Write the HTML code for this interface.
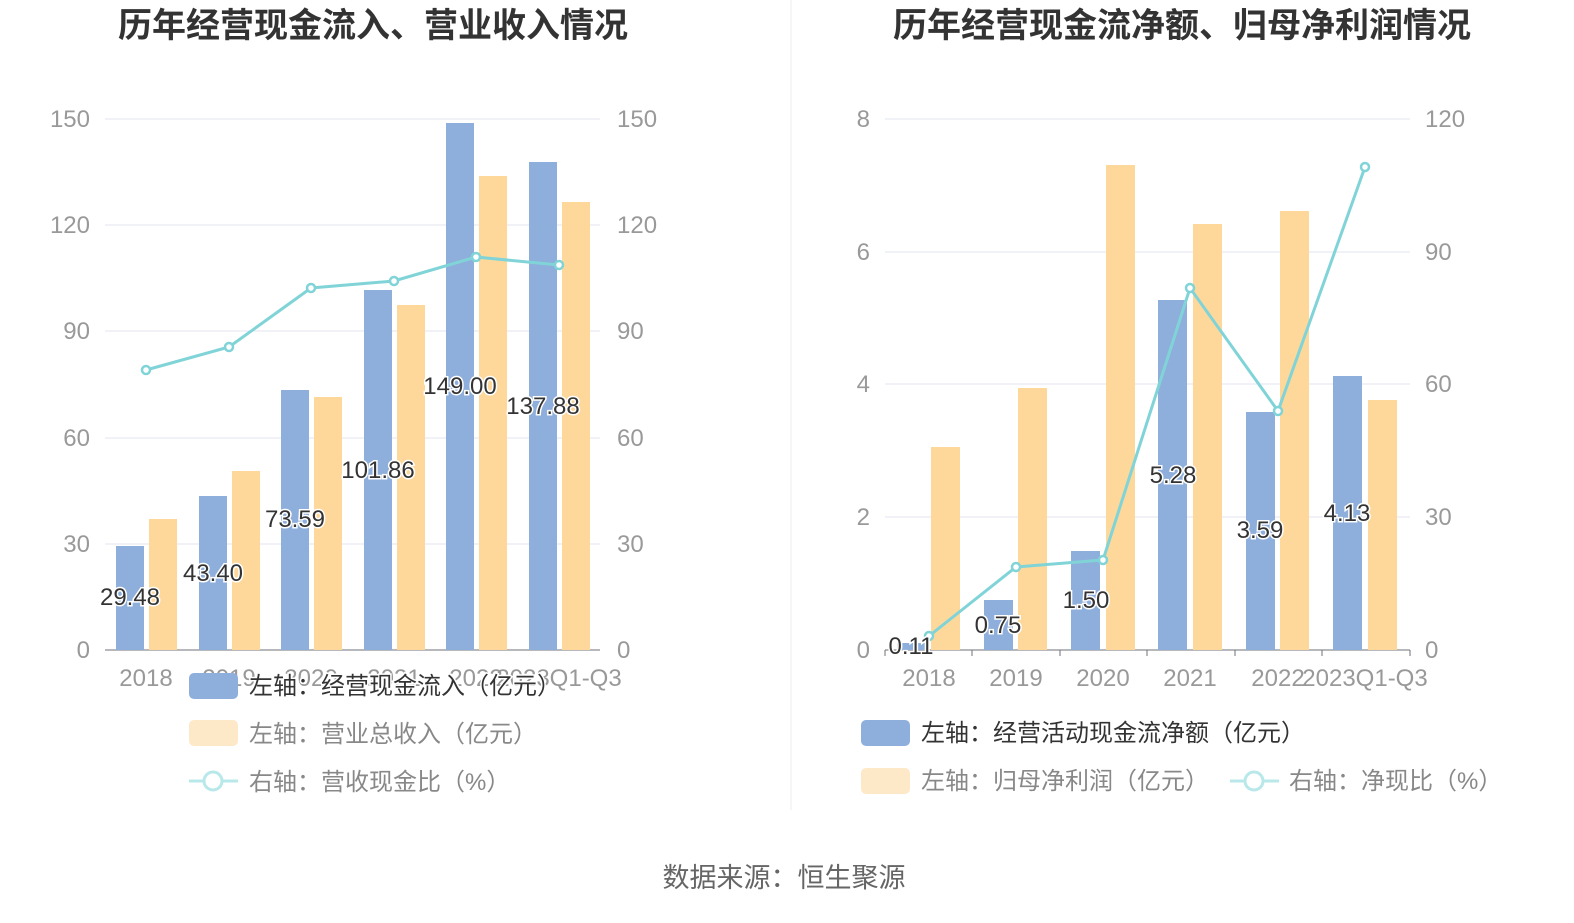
<!DOCTYPE html>
<html><head><meta charset="utf-8"><style>
body{margin:0;background:#fff;}
text{font-family:"Liberation Sans","Noto Sans CJK SC",sans-serif;}
.ax{fill:#999;font-size:24px;}
.lb{fill:#333;font-size:24px;stroke:#fff;stroke-width:3px;paint-order:stroke;}
.lg{fill:#888;font-size:24px;}
.t{fill:#333;font-size:34px;font-weight:bold;}
</style></head><body>
<svg width="1574" height="918" viewBox="0 0 1574 918" xmlns="http://www.w3.org/2000/svg">
<rect width="1574" height="918" fill="#fff"/>
<text class="t" x="373" y="37" text-anchor="middle">历年经营现金流入、营业收入情况</text>
<text class="t" x="1182" y="37" text-anchor="middle">历年经营现金流净额、归母净利润情况</text>
<line x1="791" y1="0" x2="791" y2="810" stroke="#eee"/>
<g stroke="#e0e6f1">
<line x1="105" y1="119" x2="600" y2="119"/><line x1="105" y1="225" x2="600" y2="225"/>
<line x1="105" y1="331" x2="600" y2="331"/><line x1="105" y1="438" x2="600" y2="438"/>
<line x1="105" y1="544" x2="600" y2="544"/>
</g>
<line x1="105" y1="650" x2="600" y2="650" stroke="#6e7079"/>
<g class="ax" text-anchor="end">
<text x="90" y="127">150</text><text x="90" y="233">120</text><text x="90" y="339">90</text><text x="90" y="446">60</text><text x="90" y="552">30</text><text x="90" y="658">0</text>
</g>
<g class="ax" text-anchor="start">
<text x="617" y="127">150</text><text x="617" y="233">120</text><text x="617" y="339">90</text><text x="617" y="446">60</text><text x="617" y="552">30</text><text x="617" y="658">0</text>
</g>
<g class="ax" text-anchor="middle">
<text x="146" y="686">2018</text><text x="229" y="686">2019</text><text x="311" y="686">2020</text><text x="394" y="686">2021</text><text x="476" y="686">2022</text><text x="559" y="686">2023Q1-Q3</text>
</g>
<g fill="#8eaedb">
<rect x="116" y="546" width="28" height="104"/><rect x="199" y="496" width="28" height="154"/>
<rect x="281" y="390" width="28" height="260"/><rect x="364" y="290" width="28" height="360"/>
<rect x="446" y="123" width="28" height="527"/><rect x="529" y="162" width="28" height="488"/>
</g>
<g fill="#fdd89a">
<rect x="149" y="519" width="28" height="131"/><rect x="232" y="471" width="28" height="179"/>
<rect x="314" y="397" width="28" height="253"/><rect x="397" y="305" width="28" height="345"/>
<rect x="479" y="176" width="28" height="474"/><rect x="562" y="202" width="28" height="448"/>
</g>
<polyline points="146,370 229,347 311,288 394,281 476,257 559,265" fill="none" stroke="#80d4d8" stroke-width="3"/>
<g fill="#fff" stroke="#80d4d8" stroke-width="2.5">
<circle cx="146" cy="370" r="4"/><circle cx="229" cy="347" r="4"/><circle cx="311" cy="288" r="4"/><circle cx="394" cy="281" r="4"/><circle cx="476" cy="257" r="4"/><circle cx="559" cy="265" r="4"/>
</g>
<g class="lb" text-anchor="middle">
<text x="130" y="605">29.48</text><text x="213" y="581">43.40</text><text x="295" y="527">73.59</text><text x="378" y="478">101.86</text><text x="460" y="394">149.00</text><text x="543" y="414">137.88</text>
</g>
<rect x="189" y="673" width="49" height="26" rx="5" fill="#8eaedb"/>
<text class="lb" x="249" y="694" style="fill:#333">左轴：经营现金流入（亿元）</text>
<rect x="189" y="720" width="49" height="26" rx="5" fill="#fde9c8"/>
<text class="lg" x="249" y="742">左轴：营业总收入（亿元）</text>
<line x1="189" y1="781" x2="238" y2="781" stroke="#b8e8ea" stroke-width="3"/>
<circle cx="213" cy="781" r="9" fill="#fff" stroke="#b8e8ea" stroke-width="3"/>
<text class="lg" x="249" y="790">右轴：营收现金比（%）</text>
<g stroke="#e0e6f1">
<line x1="885" y1="119" x2="1410" y2="119"/><line x1="885" y1="252" x2="1410" y2="252"/>
<line x1="885" y1="384" x2="1410" y2="384"/><line x1="885" y1="517" x2="1410" y2="517"/>
</g>
<line x1="885" y1="650" x2="1410" y2="650" stroke="#6e7079"/>
<g stroke="#6e7079"><line x1="885" y1="650" x2="885" y2="656"/><line x1="972" y1="650" x2="972" y2="656"/><line x1="1060" y1="650" x2="1060" y2="656"/><line x1="1147" y1="650" x2="1147" y2="656"/><line x1="1235" y1="650" x2="1235" y2="656"/><line x1="1322" y1="650" x2="1322" y2="656"/><line x1="1410" y1="650" x2="1410" y2="656"/></g>
<g class="ax" text-anchor="end">
<text x="870" y="127">8</text><text x="870" y="260">6</text><text x="870" y="392">4</text><text x="870" y="525">2</text><text x="870" y="658">0</text>
</g>
<g class="ax" text-anchor="start">
<text x="1425" y="127">120</text><text x="1425" y="260">90</text><text x="1425" y="392">60</text><text x="1425" y="525">30</text><text x="1425" y="658">0</text>
</g>
<g class="ax" text-anchor="middle">
<text x="929" y="686">2018</text><text x="1016" y="686">2019</text><text x="1103" y="686">2020</text><text x="1190" y="686">2021</text><text x="1278" y="686">2022</text><text x="1365" y="686">2023Q1-Q3</text>
</g>
<g fill="#8eaedb">
<rect x="897" y="643" width="29" height="7"/><rect x="984" y="600" width="29" height="50"/>
<rect x="1071" y="551" width="29" height="99"/><rect x="1158" y="300" width="29" height="350"/>
<rect x="1246" y="412" width="29" height="238"/><rect x="1333" y="376" width="29" height="274"/>
</g>
<g fill="#fdd89a">
<rect x="931" y="447" width="29" height="203"/><rect x="1018" y="388" width="29" height="262"/>
<rect x="1106" y="165" width="29" height="485"/><rect x="1193" y="224" width="29" height="426"/>
<rect x="1280" y="211" width="29" height="439"/><rect x="1368" y="400" width="29" height="250"/>
</g>
<polyline points="929,636 1016,567 1103,560 1190,288 1278,411 1365,167" fill="none" stroke="#80d4d8" stroke-width="3"/>
<g fill="#fff" stroke="#80d4d8" stroke-width="2.5">
<circle cx="929" cy="636" r="4"/><circle cx="1016" cy="567" r="4"/><circle cx="1103" cy="560" r="4"/><circle cx="1190" cy="288" r="4"/><circle cx="1278" cy="411" r="4"/><circle cx="1365" cy="167" r="4"/>
</g>
<g class="lb" text-anchor="middle">
<text x="911" y="654">0.11</text><text x="998" y="633">0.75</text><text x="1086" y="608">1.50</text><text x="1173" y="483">5.28</text><text x="1260" y="538">3.59</text><text x="1347" y="521">4.13</text>
</g>
<rect x="861" y="720" width="49" height="26" rx="5" fill="#8eaedb"/>
<text class="lb" x="921" y="741">左轴：经营活动现金流净额（亿元）</text>
<rect x="861" y="768" width="49" height="26" rx="5" fill="#fde9c8"/>
<text class="lg" x="921" y="789">左轴：归母净利润（亿元）</text>
<line x1="1230" y1="781" x2="1279" y2="781" stroke="#b8e8ea" stroke-width="3"/>
<circle cx="1254" cy="781" r="9" fill="#fff" stroke="#b8e8ea" stroke-width="3"/>
<text class="lg" x="1289" y="789">右轴：净现比（%）</text>
<text x="784" y="887" text-anchor="middle" style="fill:#666;font-size:27px">数据来源：恒生聚源</text>
</svg>
</body></html>
